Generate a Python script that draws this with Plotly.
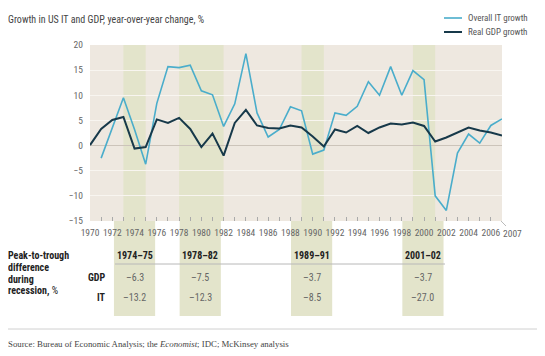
import plotly.graph_objects as go

years = list(range(1970, 2008))
it_growth = [None, -2.5, 3.4, 9.5, 3.2, -3.7, 8.4, 15.7, 15.5, 16.0, 10.9, 10.1, 3.8, 8.3, 18.3, 6.5,
             1.7, 3.2, 7.7, 6.9, -1.7, -0.9, 6.5, 6.0, 7.8, 12.7, 10.0, 15.7, 10.0, 14.9, 13.1,
             -10.0, -12.9, -1.5, 2.3, 0.5, 4.0, 5.3]
gdp_growth = [0.1, 3.3, 5.1, 5.7, -0.6, -0.3, 5.2, 4.5, 5.5, 3.3, -0.3, 2.4, -2.0, 4.5, 7.1, 4.0,
              3.5, 3.4, 4.0, 3.6, 1.8, -0.2, 3.2, 2.6, 3.9, 2.5, 3.6, 4.4, 4.2, 4.6, 3.9,
              0.8, 1.6, 2.6, 3.6, 3.0, 2.6, 2.0]

rec_labels = ["1974–75", "1978–82", "1989–91", "2001–02"]
rec_start = [1973, 1978, 1989, 1999]
rec_end = [1975, 1982, 1991, 2001]
table_center = [1974.0, 1979.9, 1989.9, 1999.9]
gdp_drop = ["–6.3", "–7.5", "–3.7", "–3.7"]
it_drop = ["–13.2", "–12.3", "–8.5", "–27.0"]

tick_years = list(range(1970, 2007))
tick_text = [str(y) if y % 2 == 0 else "" for y in tick_years]

# layout geometry (page has an 8px body margin, so the figure is shrunk by it)
OFF = 8
W, H = 545 - OFF, 356 - OFF
ML, MT, PW, PH = 90 - OFF, 45 - OFF, 412, 176
MR, MB = W - ML - PW, H - MT - PH

def px_x(px):
    return (px - OFF - ML) / PW

def px_y(py):
    return (MT + PH - (py - OFF)) / PH

NARROW = "Roboto Condensed, DejaVu Sans Condensed, sans-serif"
SERIF = "Liberation Serif, Times New Roman, serif"
BG = "#EEE8E0"
BAND = "#E3E4CB"
IT_COL = "#4AADCB"
GDP_COL = "#17394A"

fig = go.Figure()
fig.add_trace(go.Scatter(x=years, y=it_growth, mode="lines", name="Overall IT growth",
                         line=dict(color=IT_COL, width=1.6), connectgaps=False))
fig.add_trace(go.Scatter(x=years, y=gdp_growth, mode="lines", name="Real GDP growth",
                         line=dict(color=GDP_COL, width=2)))

shapes = []
for s, e in zip(rec_start, rec_end):
    shapes.append(dict(type="rect", xref="x", yref="paper", x0=s, x1=e, y0=0, y1=1,
                       fillcolor=BAND, line=dict(width=0), layer="below"))
for c in table_center:
    shapes.append(dict(type="rect", xref="x", yref="paper", x0=c - 1.85, x1=c + 1.85,
                       y0=px_y(316), y1=0, fillcolor=BAND, line=dict(width=0), layer="below"))
# table header rule
shapes.append(dict(type="line", xref="paper", yref="paper", x0=px_x(115), x1=px_x(445),
                   y0=px_y(264), y1=px_y(264), line=dict(color="#B8B8B8", width=1)))
# bottom rule
shapes.append(dict(type="line", xref="paper", yref="paper", x0=px_x(8), x1=px_x(545),
                   y0=px_y(329), y1=px_y(329), line=dict(color="#D0D0D0", width=1)))
# axis break mark
shapes.append(dict(type="line", xref="paper", yref="paper", x0=px_x(501), x1=px_x(506),
                   y0=px_y(221), y1=px_y(226), line=dict(color="#BBBBBB", width=1)))
# manual legend
shapes.append(dict(type="line", xref="paper", yref="paper", x0=px_x(444), x1=px_x(462),
                   y0=px_y(18), y1=px_y(18), line=dict(color=IT_COL, width=1.6)))
shapes.append(dict(type="line", xref="paper", yref="paper", x0=px_x(444), x1=px_x(462),
                   y0=px_y(32), y1=px_y(32), line=dict(color=GDP_COL, width=2)))

ann = []
def text(px, py, t, size=10, color="#333", family=NARROW, xanchor="left"):
    ann.append(dict(xref="paper", yref="paper", x=px_x(px), y=px_y(py), text=t,
                    showarrow=False, xanchor=xanchor, yanchor="middle",
                    font=dict(family=family, size=size, color=color)))

text(6, 19, "Growth in US IT and GDP, year-over-year change, %", size=10, color="#444")
text(466, 18, "Overall IT growth", size=9, color="#555")
text(466, 32, "Real GDP growth", size=9, color="#555")
text(512, 233, "2007", size=9.5, color="#666", xanchor="center")

text(6, 256, "<b>Peak-to-trough</b>", size=10, color="#222")
text(6, 267, "<b>difference</b>", size=10, color="#222")
text(6, 279, "<b>during</b>", size=10, color="#222")
text(6, 291, "<b>recession,</b> %", size=10, color="#222")
text(108, 277, "<b>GDP</b>", size=10, color="#222", xanchor="right")
text(108, 297, "<b>IT</b>", size=10, color="#222", xanchor="right")

for lab, c, g, i in zip(rec_labels, table_center, gdp_drop, it_drop):
    ann.append(dict(xref="x", yref="paper", x=c, y=px_y(256), text="<b>" + lab + "</b>",
                    showarrow=False, xanchor="center", yanchor="middle",
                    font=dict(family=NARROW, size=10, color="#222")))
    ann.append(dict(xref="x", yref="paper", x=c, y=px_y(277), text=g,
                    showarrow=False, xanchor="center", yanchor="middle",
                    font=dict(family=NARROW, size=10, color="#666")))
    ann.append(dict(xref="x", yref="paper", x=c, y=px_y(297), text=i,
                    showarrow=False, xanchor="center", yanchor="middle",
                    font=dict(family=NARROW, size=10, color="#666")))

text(6, 344, "Source: Bureau of Economic Analysis; the <i>Economist</i>; IDC; McKinsey analysis",
     size=8.8, color="#444", family=SERIF)

fig.update_layout(
    width=W, height=H, margin=dict(l=ML, r=MR, t=MT, b=MB, pad=0),
    paper_bgcolor="white", plot_bgcolor=BG, showlegend=False,
    shapes=shapes, annotations=ann,
    xaxis=dict(range=[1970, 2007], tickvals=tick_years, ticktext=tick_text,
               ticks="inside", ticklen=4, tickcolor="#AAAAAA", tickwidth=1,
               showgrid=False, zeroline=False, showline=False, ticklabelstandoff=4,
               tickfont=dict(family=NARROW, size=9.5, color="#666"), tickangle=0),
    yaxis=dict(range=[-15, 20], dtick=5, showgrid=True, gridcolor="#F8F5F0", gridwidth=1,
               zeroline=True, zerolinecolor="#CCC4BA", zerolinewidth=1, showline=False,
               ticks="", ticklabelstandoff=6,
               tickfont=dict(family=NARROW, size=9.5, color="#666")),
)

fig.write_html("out.html")
